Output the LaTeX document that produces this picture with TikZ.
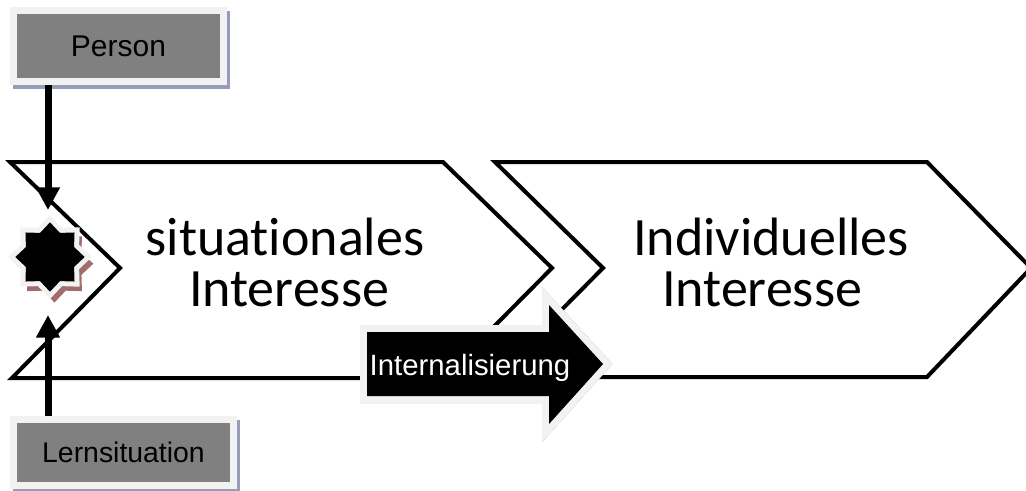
\documentclass[tikz,border=0pt]{standalone}
\usepackage{fontspec}
\usepackage{tikz}
\usetikzlibrary{arrows.meta, shapes.geometric, shadows, backgrounds}
\newfontfamily\boxfont{Liberation Sans}
\newfontfamily\bigfont{Carlito}[Ligatures = NoCommon]
\definecolor{boxgray}{RGB}{128, 128, 128}
\definecolor{rimgray}{RGB}{242, 242, 242}
\definecolor{shadeblue}{RGB}{150, 156, 186}
\definecolor{shadered}{RGB}{160, 108, 108}
\tikzset{>=latex}

\begin{document}
\begin{tikzpicture}[
    x = 0.75pt, y = -0.75pt,
    chevron/.style = {draw = black, line width = 3pt, line join = miter},
    infobox/.style = {fill = boxgray, preaction = {draw = rimgray, line width = 10.5pt}, outer sep = 5.25pt, inner sep = 0pt, font = \boxfont\fontsize{21.3}{25}\selectfont},
    feeder/.style = {-{Triangle[width = 17pt, length = 17pt]}, line width = 5.25pt},
    burst/.style = {star, star points = 8, star point ratio = 1.33, minimum size = 52pt, inner sep = 0pt,
        drop shadow = {shadow xshift = 3pt, shadow yshift = -4.5pt, shadow scale = 1.12, fill = shadered, opacity = 1},
        preaction = {draw = rimgray, line width = 7.5pt}, fill = black},
    bigtext/.style = {anchor = base, inner sep = 0pt, font = \bigfont\fontsize{40.5}{48}\selectfont},
]
\useasboundingbox (0,0) rectangle (1026,490);

% the two phases
\draw[chevron] (10,162) -- (443,162) -- (552,268) -- (443,378) -- (12,378) -- (120,268) -- cycle;
\draw[chevron] (495,162) -- (927,162) -- (1031,268) -- (927,377) -- (495,377) -- (603,268) -- cycle;

\node[bigtext] (sitA) at (285,255) {situationales};
\node[bigtext] (sitB) at (289,306) {Interesse};
\node[bigtext] (indA) at (771,255) {Individuelles};
\node[bigtext] (indB) at (762,306) {Interesse};

% Internalisierung arrow
\coordinate (pA) at (367,332);
\coordinate (pB) at (549,332);
\coordinate (pC) at (549,305);
\coordinate (pD) at (603,364);
\coordinate (pE) at (549,424);
\coordinate (pF) at (549,396);
\coordinate (pG) at (367,396);
\filldraw[shadeblue, line width = 10.5pt, shift = {(2,5)}] (pA) -- (pB) -- (pC) -- (pD) -- (pE) -- (pF) -- (pG) -- cycle;
\filldraw[rimgray, line width = 10.5pt] (pA) -- (pB) -- (pC) -- (pD) -- (pE) -- (pF) -- (pG) -- cycle;
\fill[black] (pA) -- (pB) -- (pC) -- (pD) -- (pE) -- (pF) -- (pG) -- cycle;
\node[anchor = base, inner sep = 0pt, white, font = \boxfont\fontsize{22}{26}\selectfont] (intern) at (470,375) {Internalisierung};

% inputs
\node[infobox, minimum width = 152.25pt, minimum height = 48pt, font = \boxfont\fontsize{22.5}{26}\selectfont] (person) at (118.5,46) {Person};
\node[infobox, minimum width = 159.75pt, minimum height = 44.25pt] (lern) at (123.5,452.5) {Lernsituation};
\begin{scope}[on background layer]
\fill[shadeblue] ([shift = {(3,4)}]person.north west) rectangle ([shift = {(3,4)}]person.south east);
\fill[shadeblue] ([shift = {(3,4)}]lern.north west) rectangle ([shift = {(3,4)}]lern.south east);
\end{scope}

\node[burst] (star) at (50,257) {};
\coordinate (intop) at (48,210);
\coordinate (inbot) at (48,315);
\draw[feeder] (person.south -| intop) -- (intop);
\draw[feeder] (lern.north -| inbot) -- (inbot);

\end{tikzpicture}
\end{document}
